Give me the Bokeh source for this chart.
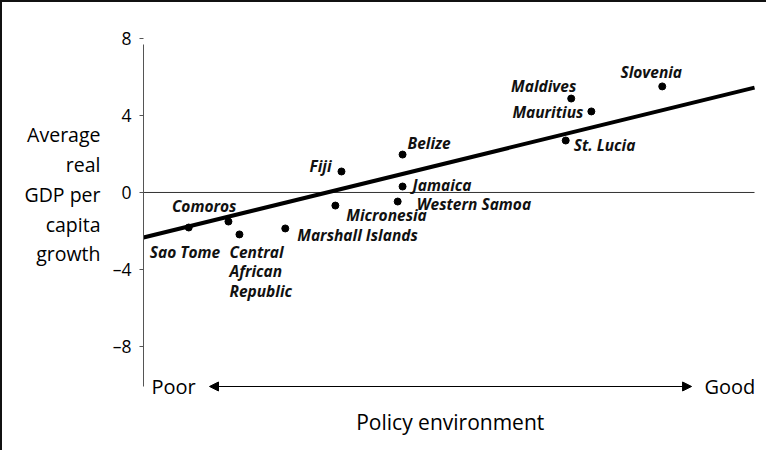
from bokeh.plotting import figure
from bokeh.models import ColumnDataSource, Label, Arrow, NormalHead, FixedTicker
from bokeh.core.properties import value
from bokeh.embed import file_html
from bokeh.resources import INLINE

# ---- data ----
countries = ["Sao Tome", "Comoros", "Central African Republic", "Marshall Islands",
             "Micronesia", "Fiji", "Western Samoa", "Jamaica", "Belize", "St. Lucia",
             "Maldives", "Mauritius", "Slovenia"]
policy = [7.4, 13.9, 15.7, 23.2, 31.4, 32.4, 41.6, 42.4, 42.4, 69.1, 70.0, 73.3, 84.9]
growth = [-1.82, -1.51, -2.18, -1.87, -0.68, 1.09, -0.47, 0.31, 1.97, 2.70, 4.88, 4.21, 5.51]

fit_x = [0, 100]
fit_y = [-2.34, 5.45]

y_ticks = [-8, -4, 0, 4, 8]
y_tick_labels = ["\u20138", "\u20134", "0", "4", "8"]

policy_min, policy_max = 0, 100   # extent of the policy scale (zero line)

# ---- label styling (offsets in px, alignment) ----
label_style = {
    "Sao Tome": (-39, 24, "left"),
    "Comoros": (8, -16, "right"),
    "Central African Republic": (-10, 37, "left"),
    "Marshall Islands": (12, 7, "left"),
    "Micronesia": (11, 9, "left"),
    "Fiji": (-10, -5, "right"),
    "Western Samoa": (19, 2, "left"),
    "Jamaica": (10, -2, "left"),
    "Belize": (5, -12, "left"),
    "St. Lucia": (8, 4, "left"),
    "Maldives": (5, -13, "right"),
    "Mauritius": (-8, 1, "right"),
    "Slovenia": (-11, -14, "center"),
}
display = {"Central African Republic": "Central\nAfrican\nRepublic"}

FONT = "Open Sans"

p = figure(width=766, height=450, output_backend="svg", toolbar_location=None,
           x_range=(-23.08, 102.29), y_range=(-13.51, 9.87),
           min_border_left=0, min_border_right=0, min_border_top=0, min_border_bottom=0)
p.styles = {"border-left": "2px solid #111", "border-top": "2px solid #111"}
p.outline_line_color = None
p.grid.visible = False
p.xaxis.visible = False
p.background_fill_color = "white"
p.border_fill_color = "white"

ax = p.yaxis[0]
ax.fixed_location = 0
ax.ticker = FixedTicker(ticks=y_ticks)
ax.major_label_overrides = {t: s for t, s in zip(y_ticks, y_tick_labels)}
ax.bounds = (-10.1, 7.7)
ax.axis_line_color = "#555555"
ax.axis_line_width = 1
ax.major_tick_line_color = "#555555"
ax.major_tick_out = 4
ax.major_tick_in = 0
ax.minor_tick_line_color = None
ax.major_label_standoff = 8
ax.major_label_text_font = FONT
ax.major_label_text_font_size = "17.5px"
ax.major_label_text_color = "black"

# zero line
p.segment(x0=policy_min, x1=policy_max, y0=0, y1=0, line_color="#333333", line_width=1)

p.line(fit_x, fit_y, line_color="black", line_width=4)

src = ColumnDataSource(dict(
    x=policy, y=growth,
    txt=[display.get(c, c) for c in countries],
    dx=[label_style[c][0] for c in countries],
    dy=[label_style[c][1] for c in countries],
    al=[label_style[c][2] for c in countries],
))
p.scatter("x", "y", source=src, size=7, color="black")
p.text("x", "y", text="txt", source=src, x_offset="dx", y_offset="dy", text_align="al",
       text_baseline="middle", text_font=value(FONT), text_font_size="15.5px",
       text_font_style="bold italic", text_color="#111111", text_line_height=0.88)

# y-axis title
p.add_layout(Label(x=-7.04, y=-0.10, text="Average\nreal\nGDP per\ncapita\ngrowth",
                   text_align="right", text_baseline="middle", text_font=FONT,
                   text_font_size="19.5px", text_color="black", text_line_height=1.10))

# policy arrow
arrow_y = -10.08
p.add_layout(Arrow(x_start=10.8, y_start=arrow_y, x_end=89.7, y_end=arrow_y,
                   line_color="black", line_width=1.2,
                   start=NormalHead(size=9, fill_color="black", line_color="black"),
                   end=NormalHead(size=9, fill_color="black", line_color="black")))
p.add_layout(Label(x=1.3, y=arrow_y, text="Poor", text_align="left", text_baseline="middle",
                   text_font=FONT, text_font_size="20px", text_color="black"))
p.add_layout(Label(x=91.8, y=arrow_y, text="Good", text_align="left", text_baseline="middle",
                   text_font=FONT, text_font_size="20px", text_color="black"))
p.add_layout(Label(x=50.2, y=-11.95, text="Policy environment", text_align="center",
                   text_baseline="middle", text_font=FONT, text_font_size="21px",
                   text_color="black"))

open("out.html", "w").write(file_html(p, INLINE))
